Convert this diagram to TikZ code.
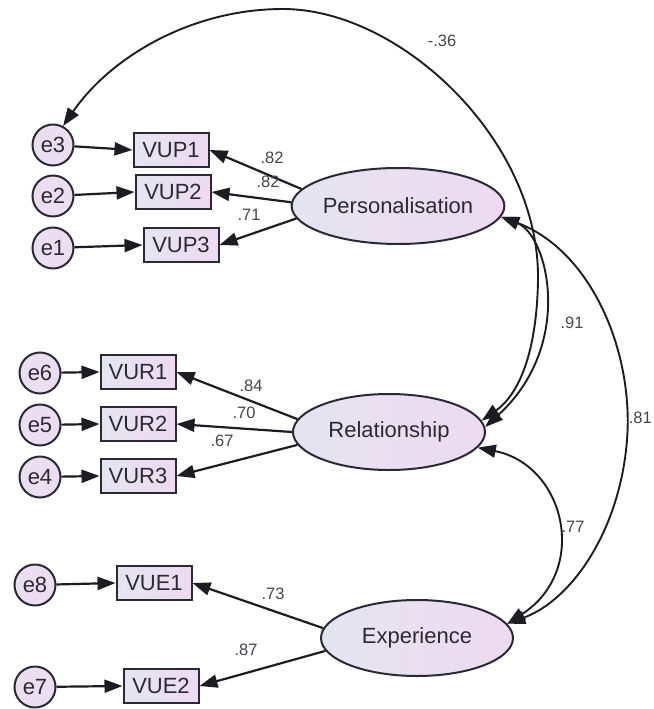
\documentclass[tikz,border=0pt]{standalone}
\usepackage{fontspec}
\setmainfont{Liberation Sans}
\usetikzlibrary{arrows.meta,shapes.geometric}
\definecolor{ink}{HTML}{2A2A36}
\definecolor{wire}{HTML}{1C1C22}
\definecolor{coefgray}{HTML}{454550}
\definecolor{fillL}{HTML}{E4E5F0}
\definecolor{fillR}{HTML}{EEDAF1}
\definecolor{errfill}{HTML}{EBDEF1}
\begin{document}
\begin{tikzpicture}[x=1pt,y=-1pt,
  every node/.style={text=ink},
  latent/.style={ellipse, draw=ink, line width=2pt, minimum width=192pt,
    minimum height=76pt, inner sep=0pt, left color=fillL, right color=fillR,
    font=\fontsize{22}{26}\selectfont},
  obs/.style={rectangle, draw=ink, line width=2pt, minimum width=75pt,
    minimum height=34pt, inner sep=0pt, left color=fillL, right color=fillR,
    font=\fontsize{22}{26}\selectfont},
  err/.style={circle, draw=ink, line width=2pt, minimum size=41pt,
    inner sep=0pt, fill=errfill, font=\fontsize{22}{26}\selectfont},
  load/.style={draw=wire, line width=2.2pt, -{Triangle[length=18pt,width=13pt]}},
  cov/.style={draw=wire, line width=1.9pt,
    {Triangle[length=18pt,width=13pt]}-{Triangle[length=18pt,width=13pt]}},
  coef/.style={font=\fontsize{16.5}{19}\selectfont, text=coefgray, inner sep=0pt}
]
\useasboundingbox (0,0) rectangle (653,709);

% latent factors
\node[latent] (P) at (398,206) {Personalisation};
\node[latent] (R) at (389,432) {Relationship};
\node[latent] (E) at (417,638) {Experience};

% indicators
\node[obs] (VUP1) at (171,150) {VUP1};
\node[obs] (VUP2) at (173,192) {VUP2};
\node[obs] (VUP3) at (181,245) {VUP3};
\node[obs] (VUR1) at (138,372) {VUR1};
\node[obs] (VUR2) at (138,424) {VUR2};
\node[obs] (VUR3) at (138,476) {VUR3};
\node[obs] (VUE1) at (154,583) {VUE1};
\node[obs] (VUE2) at (161,686) {VUE2};

% error terms
\node[err] (e3) at (53,145) {e3};
\node[err] (e2) at (53,196) {e2};
\node[err] (e1) at (53,248) {e1};
\node[err] (e6) at (40,373) {e6};
\node[err] (e5) at (40,425) {e5};
\node[err] (e4) at (40,477) {e4};
\node[err] (e8) at (35,585) {e8};
\node[err] (e7) at (35,687) {e7};

% error -> indicator
\foreach \e/\v in {e3/VUP1,e2/VUP2,e1/VUP3,e6/VUR1,e5/VUR2,e4/VUR3,e8/VUE1,e7/VUE2}
  \draw[load] (\e) -- (\v.west);

% factor loadings
\draw[load] (P.170) -- (VUP1.east);
\draw[load] (P.178) -- (VUP2.east);
\draw[load] (P.187) -- (VUP3.east);
\draw[load] (R.172) -- (VUR1.east);
\draw[load] (R.180) -- (VUR2.east);
\draw[load] (R.188) -- (VUR3.east);
\draw[load] (E.174) -- (VUE1.east);
\draw[load] (E.188) -- (VUE2.east);

\node[coef] (lp1) at (272,158) {.82};
\node[coef] (lp2) at (268,182) {.82};
\node[coef] (lp3) at (249,215) {.71};
\node[coef] (lr1) at (251,386) {.84};
\node[coef] (lr2) at (244,413) {.70};
\node[coef] (lr3) at (222,441) {.67};
\node[coef] (le1) at (273,594) {.73};
\node[coef] (le2) at (246,650) {.87};

% covariances
\coordinate (top) at (283,9);
\coordinate (rim) at (538,280);
\draw[cov] (e3.62) .. controls (110,58) and (190,9) .. (top)
  .. controls (400,9) and (540,140) .. (rim)
  .. controls (537,345) and (522,392) .. (R.7);
\draw[cov] (P.-6) .. controls (548,235) and (575,345) .. (R.3);
\coordinate (far) at (627,440);
\draw[cov] (P.-6) .. controls (590,250) and (634,350) .. (far)
  .. controls (620,530) and (572,600) .. (E.9);
\draw[cov] (R.-10) .. controls (565,465) and (590,570) .. (E.9);

\node[coef] (c36) at (442,41) {-.36};
\node[coef] (c91) at (572,323) {.91};
\node[coef] (c77) at (573,527) {.77};
\node[coef, anchor=east] (c81) at (652,418) {.81};
\end{tikzpicture}
\end{document}
